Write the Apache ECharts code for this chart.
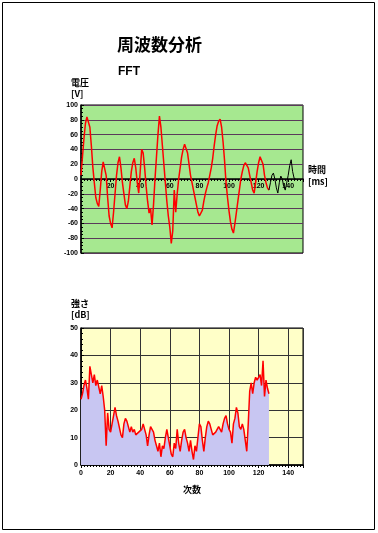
<!DOCTYPE html>
<html>
<head>
<meta charset="utf-8">
<script src="https://cdn.jsdelivr.net/npm/echarts@6/dist/echarts.min.js"></script>
<style>
  html, body { margin: 0; padding: 0; background: #fff; }
  #chart { width: 378px; height: 533px; }
</style>
</head>
<body>
<div id="chart"></div>
<script>
// 時間波形 (0..127 = 解析窓, 赤)
var timeRed = [
   5,  30,  55,  75,  84,  84,  70,  45,  16,  -5,
 -25, -33, -37, -15,  10,  23,  23,   5, -25, -50,
 -60, -66, -45, -20,   5,  22,  30,  15,  -5, -20,
 -35, -40, -30, -10,  10,  22,  28,  15,  -5, -19,
  10,  40,  35,  15, -10, -30, -46, -40, -62, -35,
   0,  30,  60,  85,  70,  45,  20,  -5, -30, -50,
 -65, -87, -70, -15, -45, -20,   0,  15,  30,  40,
  47,  47,  35,  20,   5,  -5, -15, -25, -35, -45,
 -50, -51, -42, -30, -20, -12,  -5,   5,  15,  28,
  45,  60,  72,  78,  81,  70,  50,  25,  -5, -25,
 -43, -58, -68, -73, -60, -45, -30, -15,   0,  10,
  18,  22,  23,  15,   5,  -5, -15, -19,  -5,  10,
  22,  30,  32,  20,   5,  -5, -12, -15
];
// 窓の外 (127..145, 黒)
var timeBlackStart = 127;
var timeBlack = [-15, -5, 5, 8, 0, -12, -19, -5, 4, 0, -10, -15, -5, 5, 18, 26, 10, 1, 0];

// スペクトル [dB]
var spectrum = [
  24, 26, 29, 31, 28, 24, 36, 33, 30, 33,
  29, 31, 31, 26, 29, 25, 20,  7, 19, 13,
  12, 15, 18, 21, 18, 16, 16, 11, 10, 15,
  17, 16, 16, 12, 14, 12, 13, 11, 11, 12,
  12, 13, 15, 15, 11,  7, 11, 14, 14, 12,
   9,  7,  5,  8,  3,  7,  6, 10, 13, 10,
   7,  4,  3,  8,  6, 13,  8,  5,  9, 12,
  13, 10,  8,  5,  9,  5,  2,  7,  5, 10,
  15, 14,  9,  5, 10, 14, 16, 15, 13, 11,
  11, 12, 12, 14, 13, 12, 15, 17, 18, 15,
  13, 12,  8, 15, 17, 21, 19, 14, 13, 15,
  13,  9,  5, 15, 27, 30, 26, 30, 32, 31,
  31, 33, 29, 38, 25, 31, 28, 26
];

var chart = echarts.init(document.getElementById('chart'));
var font = 'Liberation Sans';
var small = { fontSize: 7, fontWeight: 'bold', color: '#000', fontFamily: font };

var redData = timeRed.map(function(v, i){ return [i, v]; });
var blackData = timeBlack.map(function(v, i){ return [timeBlackStart + i, v]; });
var specData = spectrum.map(function(v, i){ return [i, v]; });

// 上のグラフの高さ 148px, 0V は中央 → 下端から 74px 上
var option = {
    animation: false,
    backgroundColor: '#fff',
    graphic: [
        { type: 'rect', shape: { x: 2.5, y: 2.5, width: 372, height: 527 },
          style: { fill: 'none', stroke: '#000', lineWidth: 1 } },
        { type: 'text', left: 117, top: 36,
          style: { text: '周波数分析', fontSize: 17, fontWeight: 'bold', fill: '#000', fontFamily: 'Noto Sans CJK JP' } },
        { type: 'text', left: 118, top: 66,
          style: { text: 'FFT', fontSize: 12, fontWeight: 'bold', fill: '#000', fontFamily: font } },
        { type: 'text', left: 71, top: 77,
          style: { text: '電圧\n[V]', fontSize: 9, lineHeight: 11, fontWeight: 'bold', fill: '#000', fontFamily: 'Noto Sans CJK JP' } },
        { type: 'text', left: 308, top: 164,
          style: { text: '時間\n[ms]', fontSize: 9, lineHeight: 12, fontWeight: 'bold', fill: '#000', fontFamily: 'Noto Sans CJK JP' } },
        { type: 'text', left: 71, top: 298,
          style: { text: '強さ\n[dB]', fontSize: 9, lineHeight: 11, fontWeight: 'bold', fill: '#000', fontFamily: 'Noto Sans CJK JP' } }
    ],
    grid: [
        { left: 81, top: 105, width: 222, height: 148, show: true,
          backgroundColor: '#a6e890', borderColor: '#000', borderWidth: 1 },
        { left: 81, top: 328, width: 222, height: 137, show: true,
          backgroundColor: '#ffffc8', borderColor: '#000', borderWidth: 1 }
    ],
    xAxis: [
        {
            gridIndex: 0, type: 'value', min: 0, max: 150, interval: 20,
            position: 'bottom', offset: -74,
            axisLine: { onZero: false, lineStyle: { color: '#000', width: 1.5 } },
            axisTick: { show: true, length: 3, lineStyle: { color: '#000' } },
            minorTick: { show: true, splitNumber: 10, length: 2, lineStyle: { color: '#000' } },
            splitLine: { show: false },
            axisLabel: Object.assign({ margin: 4, showMinLabel: false, showMaxLabel: false }, small)
        },
        {
            gridIndex: 1, type: 'value', min: 0, max: 150, interval: 20,
            name: '次数', nameLocation: 'middle', nameGap: 20,
            nameTextStyle: { fontSize: 9, fontWeight: 'bold', color: '#000', fontFamily: 'Noto Sans CJK JP' },
            axisLine: { lineStyle: { color: '#000', width: 1.5 } },
            axisTick: { show: true, length: 3, lineStyle: { color: '#000' } },
            minorTick: { show: true, splitNumber: 10, length: 2, lineStyle: { color: '#000' } },
            splitLine: { show: true, lineStyle: { color: '#333', width: 1 } },
            axisLabel: Object.assign({ margin: 5, showMaxLabel: false }, small)
        }
    ],
    yAxis: [
        {
            gridIndex: 0, type: 'value', min: -100, max: 100, interval: 20,
            axisLine: { show: true, onZero: false, lineStyle: { color: '#000', width: 1.5 } },
            axisTick: { show: true, inside: true, length: 3, lineStyle: { color: '#000' } },
            minorTick: { show: true, splitNumber: 4, length: 2, lineStyle: { color: '#000' } },
            splitLine: { show: true, lineStyle: { color: '#5a3a5a', width: 1 } },
            axisLabel: Object.assign({ margin: 3 }, small)
        },
        {
            gridIndex: 1, type: 'value', min: 0, max: 50, interval: 10,
            axisLine: { show: true, lineStyle: { color: '#000', width: 1.5 } },
            axisTick: { show: true, inside: true, length: 3, lineStyle: { color: '#000' } },
            minorTick: { show: true, splitNumber: 5, length: 2, lineStyle: { color: '#000' } },
            splitLine: { show: true, lineStyle: { color: '#333', width: 1 } },
            axisLabel: Object.assign({ margin: 3 }, small)
        }
    ],
    series: [
        {
            type: 'line', xAxisIndex: 0, yAxisIndex: 0, data: redData,
            showSymbol: false, lineStyle: { color: '#ff0000', width: 1.5 }
        },
        {
            type: 'line', xAxisIndex: 0, yAxisIndex: 0, data: blackData,
            showSymbol: false, lineStyle: { color: '#000', width: 1 }
        },
        {
            type: 'line', xAxisIndex: 1, yAxisIndex: 1, data: specData,
            showSymbol: false, lineStyle: { color: '#ff0000', width: 1.5 },
            areaStyle: { color: '#c8c6f2', opacity: 1 }
        }
    ]
};
chart.setOption(option);
</script>
</body>
</html>
